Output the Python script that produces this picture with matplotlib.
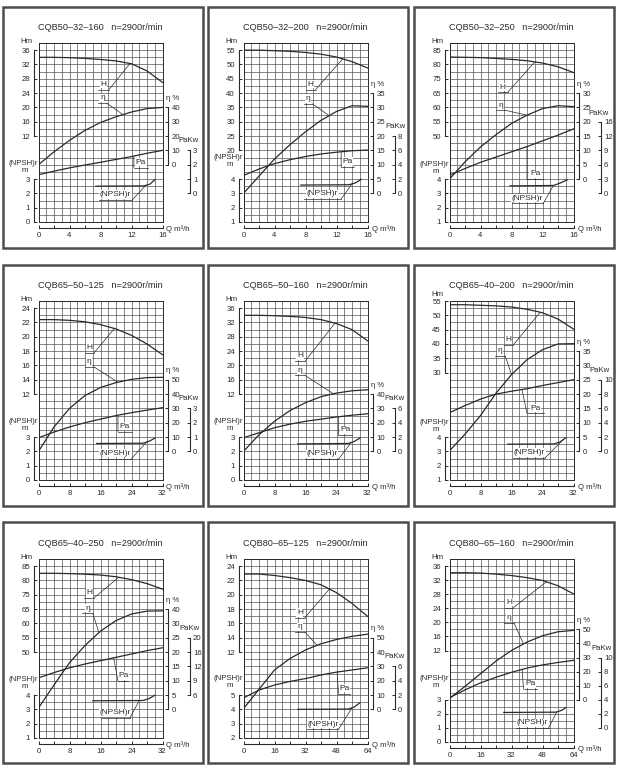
import numpy as np
import matplotlib.pyplot as plt
from matplotlib.patches import Rectangle

plt.rcParams['font.family'] = ['Liberation Sans', 'DejaVu Sans']

W, H = 620, 775
INK = '#2a2a2a'

# ---------------- data ----------------
titles = ['CQB50–32–160', 'CQB50–32–200', 'CQB50–32–250',
          'CQB65–50–125', 'CQB65–50–160', 'CQB65–40–200',
          'CQB65–40–250', 'CQB80–65–125', 'CQB80–65–160']
speed = 'n=2900r/min'
q_max = [16, 16, 16, 32, 32, 32, 32, 64, 64]

flow = [
    [0, 2, 4, 6, 8, 10, 12, 14, 16],
    [0, 2, 4, 6, 8, 10, 12, 14, 16],
    [0, 2, 4, 6, 8, 10, 12, 14, 16],
    [0, 4, 8, 12, 16, 20, 24, 28, 32],
    [0, 4, 8, 12, 16, 20, 24, 28, 32],
    [0, 4, 8, 12, 16, 20, 24, 28, 32],
    [0, 4, 8, 12, 16, 20, 24, 28, 32],
    [0, 8, 16, 24, 32, 40, 48, 56, 64],
    [0, 8, 16, 24, 32, 40, 48, 56, 64],
]
head = [
    [34.0, 34.0, 33.9, 33.7, 33.4, 33.0, 32.2, 30.2, 27.0],
    [55.0, 55.0, 54.8, 54.6, 54.2, 53.6, 52.6, 51.0, 48.8],
    [82.6, 82.5, 82.4, 82.1, 81.8, 81.3, 80.5, 79.2, 77.2],
    [22.4, 22.4, 22.3, 22.1, 21.7, 21.1, 20.2, 19.0, 17.5],
    [34.0, 34.0, 33.9, 33.7, 33.4, 32.8, 31.7, 30.0, 26.9],
    [53.7, 53.7, 53.5, 53.3, 52.9, 52.1, 50.9, 48.7, 45.2],
    [82.5, 82.5, 82.4, 82.2, 81.9, 81.3, 80.3, 78.9, 77.0],
    [22.9, 22.9, 22.7, 22.4, 22.0, 21.4, 20.3, 18.8, 17.0],
    [34.1, 34.1, 34.0, 33.7, 33.3, 32.7, 31.9, 30.4, 28.1],
]
eff = [
    [0, 9, 17, 24, 29.5, 33.5, 36.8, 39.2, 40.0],
    [0, 6, 12, 17, 21.5, 25.5, 28.6, 30.6, 30.4],
    [0, 6, 11.2, 15.5, 19.4, 22.3, 24.6, 25.6, 25.3],
    [0, 17, 30, 39, 44.6, 48, 50.3, 51.5, 51.7],
    [0, 11.6, 21, 28.5, 34, 38.2, 40.7, 42.3, 43],
    [0.2, 6, 12.5, 20.3, 26.8, 32, 35.5, 37.5, 37.6],
    [0.5, 8.5, 16.3, 22.3, 27.3, 31, 33.3, 34.3, 34.4],
    [0.5, 14, 27.5, 35.5, 41.5, 45.8, 48.8, 51, 52.5],
    [1, 9.5, 18.5, 27.5, 35, 41, 45.5, 48.3, 49.3],
]
power = [
    [1.3, 1.55, 1.78, 1.98, 2.17, 2.37, 2.57, 2.8, 3.0],
    [2.5, 3.4, 4.15, 4.7, 5.15, 5.5, 5.75, 5.95, 6.05],
    [3.8, 5.2, 6.5, 7.6, 8.7, 9.8, 11.0, 12.2, 13.5],
    [0.95, 1.35, 1.7, 2.0, 2.25, 2.5, 2.7, 2.88, 3.05],
    [1.9, 2.6, 3.3, 3.8, 4.2, 4.5, 4.8, 5.05, 5.25],
    [5.4, 6.4, 7.3, 8.0, 8.4, 8.75, 9.2, 9.6, 10.0],
    [9.6, 10.7, 11.7, 12.5, 13.2, 13.9, 14.6, 15.3, 15.9],
    [1.6, 2.7, 3.4, 3.9, 4.3, 4.8, 5.2, 5.5, 5.8],
    [4.3, 5.4, 6.4, 7.2, 7.9, 8.5, 8.95, 9.3, 9.6],
]
npsh_q = [
    [7.4, 13.6, 14.4, 15.0],
    [7.4, 13.6, 14.4, 15.2],
    [7.8, 13.4, 14.2, 15.2],
    [15, 27, 28.5, 30],
    [14, 27, 28.5, 30],
    [15, 27, 28.5, 30],
    [14, 27, 28.5, 30],
    [28, 54, 57, 60],
    [28, 55, 58, 60],
]
npsh_v = [
    [2.5, 2.52, 2.65, 2.95],
    [3.58, 3.6, 3.72, 3.98],
    [3.52, 3.55, 3.7, 3.95],
    [2.55, 2.57, 2.7, 2.92],
    [2.52, 2.55, 2.68, 2.92],
    [3.5, 3.52, 3.65, 3.95],
    [3.6, 3.62, 3.75, 3.98],
    [4.0, 4.02, 4.15, 4.45],
    [2.1, 2.12, 2.25, 2.45],
]

# scales: value on the bottom grid line, value per grid row, ticks, printed labels
h_scale = [
    (-12, 2, [12, 16, 20, 24, 28, 32, 36], None),
    (-5, 2.5, [20, 25, 30, 35, 40, 45, 50, 55], None),
    (25, 2.5, [55, 60, 65, 70, 75, 80, 85], ['50', '55', '60', '65', '75', '80', '85']),
    (0, 1, [12, 14, 16, 18, 20, 22, 24], None),
    (-12, 2, [12, 16, 20, 24, 28, 32, 36], None),
    (-7.5, 2.5, [30, 35, 40, 45, 50, 55], None),
    (25, 2.5, [55, 60, 65, 70, 75, 80, 85], ['50', '55', '60', '65', '75', '80', '85']),
    (0, 1, [12, 14, 16, 18, 20, 22, 24], None),
    (-14, 2, [12, 16, 20, 24, 28, 32, 36], None),
]
n_scale = [
    (0, 0.5, [0, 1, 2, 3], None),
    (1, 0.5, [1, 2, 3, 4], None),
    (1, 0.5, [1, 2, 3, 4], None),
    (0, 0.5, [0, 1, 2, 3], None),
    (0, 0.5, [0, 1, 2, 3], None),
    (1, 0.5, [1, 2, 3, 4], None),
    (1, 0.5, [1, 2, 3, 4], None),
    (2, 0.5, [2, 3, 4, 5], None),
    (0, 0.5, [0, 1, 2, 3], None),
]
e_scale = [
    (-40, 5, [0, 10, 20, 30, 40], None),
    (-10, 2.5, [0, 5, 10, 15, 20, 25, 30, 35], None),
    (-15, 2.5, [0, 5, 10, 15, 20, 25, 30], None),
    (-20, 5, [0, 10, 20, 30, 40, 50], None),
    (-20, 5, [0, 10, 20, 30, 40], None),
    (-10, 2.5, [0, 5, 10, 15, 20, 25, 30, 35], None),
    (-10, 2.5, [0, 5, 10, 15, 20, 25, 30, 35], ['0', '5', '10', '15', '20', '25', '30', '40']),
    (-20, 5, [0, 10, 20, 30, 40, 50], None),
    (-30, 5, [0, 10, 20, 30, 40, 50], None),
]
p_scale = [
    (-2, 0.5, [0, 1, 2, 3], None),
    (-4, 1, [0, 2, 4, 6, 8], None),
    (-6, 1.5, [0, 3, 6, 9, 12, 15], ['0', '3', '6', '9', '12', '16']),
    (-2, 0.5, [0, 1, 2, 3], None),
    (-4, 1, [0, 2, 4, 6], None),
    (-4, 1, [0, 2, 4, 6, 8, 10], None),
    (-3, 1.5, [6, 9, 12, 15, 18], ['6', '9', '12', '16', '20']),
    (-4, 1, [0, 2, 4, 6], None),
    (-2, 1, [0, 2, 4, 6, 8, 10], None),
]

# ---------------- layout (pixels) ----------------
col_x = [3, 208, 414]
row_y = [7, 265, 522]
PW, PH = 200, 241
n_rows = [25, 25, 25, 25, 25, 25, 25, 25, 26]
g_top = [36, 36, 36, 36, 36, 36, 37, 37, 37]
g_bot = [215, 215, 215, 215, 215, 215, 216, 216, 220]
npsh_lab_row = [8.2, 8.95, 8.0, 8.2, 8.2, 8.1, 8.2, 8.3, 9.05]
pakw_dx = [26.5, 27.5, 25, 26, 27, 26.5, 27, 27, 28.5]
pakw_dy = [9.5, 9.5, 8.5, 9.5, 9.5, 9.5, 9.5, 9.5, 9.5]

# curve labels: underline q0, q1, row, leader side, flow where leader meets curve
ann = [
    [(7.7, 9.1, 18.5, 'R', 11.8), (7.7, 8.8, 16.6, 'R', 10.9), (12.3, 14.1, 7.6, 'L', 12.3), (7.8, 12.1, 3.1, 'R', 13.85)],
    [(8.0, 9.3, 18.5, 'R', 12.8), (7.8, 8.9, 16.5, 'R', 11.05), (12.6, 14.3, 7.7, 'L', 12.6), (7.8, 12.6, 3.2, 'R', 14.0)],
    [(6.2, 7.5, 18.1, 'R', 11.0), (6.0, 7.2, 15.6, 'R', 10.0), (10.0, 12.1, 6.0, 'L', 10.0), (8.0, 12.1, 2.6, 'R', 13.4)],
    [(12.1, 14.4, 17.8, 'R', 19.6), (11.9, 14.3, 15.8, 'R', 20.5), (20.5, 24.0, 6.75, 'L', 20.5), (15.7, 24.0, 3.0, 'R', 27.9)],
    [(13.3, 15.9, 16.6, 'R', 23.6), (13.3, 15.9, 14.6, 'R', 23.2), (24.5, 28.0, 6.3, 'L', 24.5), (15.9, 24.5, 2.9, 'R', 27.8)],
    [(14.0, 16.5, 18.9, 'R', 23.4), (11.8, 14.4, 17.3, 'R', 16.0), (20.0, 24.3, 9.3, 'L', 18.7), (16.5, 24.7, 3.1, 'R', 29.4)],
    [(11.8, 14.4, 19.6, 'R', 20.7), (11.3, 14.0, 17.4, 'R', 15.6), (20.5, 23.2, 8.0, 'L', 19.4), (16.0, 23.6, 2.8, 'R', 26.0)],
    [(26.5, 31.7, 16.8, 'R', 44.3), (26.5, 31.7, 14.8, 'R', 38.0), (49.0, 55.0, 6.2, 'L', 48.3), (32.9, 49.0, 1.2, 'R', 56.0)],
    [(28.5, 33.0, 19.1, 'R', 50.0), (28.3, 33.3, 16.9, 'R', 38.2), (38.2, 45.0, 7.5, 'L', 37.5), (34.4, 51.1, 2.0, 'R', 55.4)],
]

fig = plt.figure(figsize=(W / 100, H / 100), dpi=100)
fig.patch.set_facecolor('white')


def ftext(x, y, s, **kw):
    kw.setdefault('fontsize', 5.6)
    kw.setdefault('color', INK)
    fig.text(x / W, 1 - y / H, s, **kw)


def overlay(rect, qm, v0, step, nr):
    a = fig.add_axes(rect)
    a.set_xlim(0, qm)
    a.set_ylim(v0, v0 + step * nr)
    a.patch.set_visible(False)
    a.xaxis.set_visible(False)
    for s in a.spines.values():
        s.set_visible(False)
    return a


def show_scale(a, side, off_px, ticks, labels):
    sp = a.spines[side]
    sp.set_visible(True)
    sp.set_position(('outward', off_px * 0.72))
    sp.set_bounds(ticks[0], ticks[-1])
    sp.set_linewidth(0.8)
    sp.set_color(INK)
    if side == 'right':
        a.yaxis.tick_right()
    else:
        a.yaxis.tick_left()
    a.set_yticks(ticks, labels if labels else [f'{t:g}' for t in ticks])
    a.tick_params(axis='y', direction='in', length=2.3, width=0.7, pad=2.6,
                  labelsize=5.6, colors=INK)


for i in range(9):
    px0 = col_x[i % 3]
    py0 = row_y[i // 3]
    nr = n_rows[i]
    qm = q_max[i]
    gl, gr = px0 + 35.5, px0 + 159.5
    gt, gb = py0 + g_top[i], py0 + g_bot[i]
    rh = (gb - gt) / nr
    rect = [gl / W, 1 - gb / H, (gr - gl) / W, (gb - gt) / H]

    # the grid
    base = fig.add_axes(rect)
    base.set_xlim(0, qm)
    base.set_ylim(0, nr)
    base.set_xticks(np.linspace(0, qm, 17))
    base.set_yticks(np.arange(nr + 1))
    base.tick_params(length=0, labelbottom=False, labelleft=False)
    base.grid(True, color='#555555', lw=0.5)
    for s in base.spines.values():
        s.set_linewidth(0.7)
        s.set_color(INK)

    # four scales
    v0, st, tk, lb = h_scale[i]
    ah = overlay(rect, qm, v0, st, nr)
    show_scale(ah, 'left', 5, tk, lb)
    ah.plot(flow[i], head[i], color=INK, lw=0.9)
    h_top_y = gb - (tk[-1] - v0) / st * rh

    v0, st, tk, lb = n_scale[i]
    an = overlay(rect, qm, v0, st, nr)
    show_scale(an, 'left', 5, tk, lb)
    an.plot(npsh_q[i], npsh_v[i], color=INK, lw=0.9)

    v0, st, tk, lb = e_scale[i]
    ae = overlay(rect, qm, v0, st, nr)
    show_scale(ae, 'right', 5.5, tk, lb)
    ae.plot(flow[i], eff[i], color=INK, lw=0.9)
    e_top_y = gb - (tk[-1] - v0) / st * rh

    v0, st, tk, lb = p_scale[i]
    ap = overlay(rect, qm, v0, st, nr)
    show_scale(ap, 'right', 27, tk, lb)
    ap.plot(flow[i], power[i], color=INK, lw=0.9)
    p_top_y = gb - (tk[-1] - v0) / st * rh

    # flow axis
    aq = fig.add_axes(rect)
    aq.set_xlim(0, qm)
    aq.patch.set_visible(False)
    aq.yaxis.set_visible(False)
    for k, s in aq.spines.items():
        s.set_visible(k == 'bottom')
    aq.spines['bottom'].set_position(('outward', 6 * 0.72))
    aq.spines['bottom'].set_bounds(0, qm)
    aq.spines['bottom'].set_linewidth(0.8)
    aq.spines['bottom'].set_color(INK)
    aq.set_xticks(np.linspace(0, qm, 5), [f'{t:g}' for t in np.linspace(0, qm, 5)])
    aq.set_xticks(np.linspace(0, qm, 9), minor=True)
    aq.tick_params(axis='x', which='both', direction='in', length=2.3, width=0.7,
                   pad=3.2, labelsize=5.6, colors=INK)

    # axis captions
    ftext((gl + gr) / 2, py0 + 21, titles[i] + '   ' + speed, fontsize=6.6,
          ha='center', va='center')
    ftext(gl - 12, max(h_top_y - 9, py0 + 30), 'Hm', ha='center', va='center')
    ny = gb - npsh_lab_row[i] * rh
    ftext(gl - 0.5, ny, '(NPSH)r', ha='right', va='center')
    ftext(gl - 13.5, ny + 7, 'm', ha='center', va='center')
    ftext(gr + 3.5, e_top_y - 9, 'η %', ha='left', va='center')
    ftext(gr + pakw_dx[i], p_top_y - pakw_dy[i], 'PaKw', ha='center', va='center')
    ftext(gr + 4, gb + 7.3, 'Q m³/h', ha='left', va='center')

    # curve labels with leader lines
    for (q0, q1, r, side, qt), a, qs, vs, txt in zip(
            ann[i], [ah, ae, ap, an],
            [flow[i], flow[i], flow[i], npsh_q[i]],
            [head[i], eff[i], power[i], npsh_v[i]],
            ['H', 'η', 'Pa', '(NPSH)r']):
        base.plot([q0, q1], [r, r], color=INK, lw=0.5)
        base.text((q0 + q1) / 2, r + 0.25, txt, ha='center', va='bottom',
                  fontsize=6.0, color=INK,
                  bbox=dict(fc='white', ec='none', pad=0.4))
        qa = q1 if side == 'R' else q0
        vt = np.interp(qt, qs, vs)
        a.annotate('', xy=(qt, vt), xytext=(qa, r), textcoords=base.transData,
                   arrowprops=dict(arrowstyle='-', color=INK, lw=0.5,
                                   shrinkA=0, shrinkB=0))

    # panel frame
    fig.add_artist(Rectangle((px0 / W, 1 - (py0 + PH) / H), PW / W, PH / H,
                             transform=fig.transFigure, fill=False,
                             lw=1.8, ec='#4d4d4d'))

fig.savefig('out.png', dpi=100)
